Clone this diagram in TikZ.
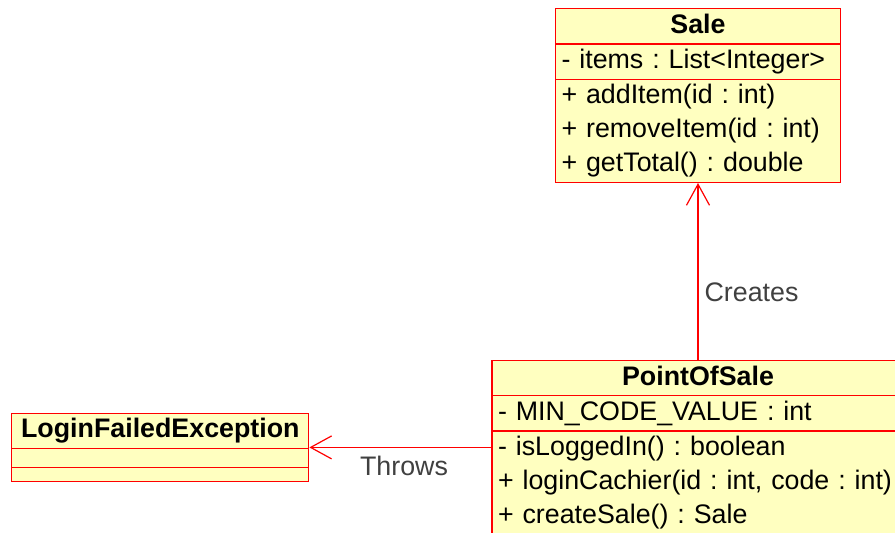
\documentclass[tikz,border=0pt]{standalone}
\usepackage{fontspec}
\setmainfont{Liberation Sans}
\usetikzlibrary{positioning, shapes.multipart, arrows.meta}

\definecolor{umlred}{RGB}{255,0,0}
\definecolor{umlfill}{RGB}{255,255,192}
\definecolor{umllabel}{RGB}{64,64,64}

% one row of a class box
\newcommand{\row}{\rule[-5pt]{0pt}{17pt}}

\begin{document}
\begin{tikzpicture}[x=0.5pt, y=-0.5pt,
    umlclass/.style={rectangle split, rectangle split parts=3, draw=umlred, fill=umlfill,
      line width=0.6pt, inner xsep=3pt, inner ysep=0pt, align=left,
      font=\fontsize{13.4pt}{17pt}\selectfont\frenchspacing},
    assoc/.style={draw=umlred, line width=0.6pt, -{Straight Barb[length=10.5pt, width=11.5pt]}},
    lbl/.style={inner sep=0pt, text=umllabel, font=\fontsize{13.4pt}{17pt}\selectfont}]
          \useasboundingbox (0,0) rectangle (895,532);
          \clip (0,0) rectangle (895,532);

          \node (pos) [umlclass, text width=200pt, anchor=north] at (698,360) {
            {\centering\textbf{PointOfSale}\row\par}
            \nodepart{second}\row - MIN\_CODE\_VALUE : int
            \nodepart{third}\row - isLoggedIn() : boolean\\
            \row \mbox{+ loginCachier(id : int, code : int)}\\
            \row + createSale() : Sale};
          \node (sale) [umlclass, text width=136.5pt, above=88.5pt of pos] {
            {\centering\textbf{Sale}\row\par}
            \nodepart{second}\row - items : List<Integer>
            \nodepart{third}\row + addItem(id : int)\\
            \row + removeItem(id : int)\\
            \row + getTotal() : double};
          \node (login) [umlclass, text width=142.5pt, left=91pt of pos] {
            {\centering\textbf{LoginFailedException}\row\par}
            \nodepart{second}\rule{0pt}{9pt}
            \nodepart{third}\rule{0pt}{6.5pt}};

          \path
            (pos) edge[assoc] node[lbl, pos=0.385, right=3pt] {Creates} (sale)
            (pos) edge[assoc] node[lbl, pos=0.48, below=4pt] {Throws} (login);

\end{tikzpicture}
\end{document}
